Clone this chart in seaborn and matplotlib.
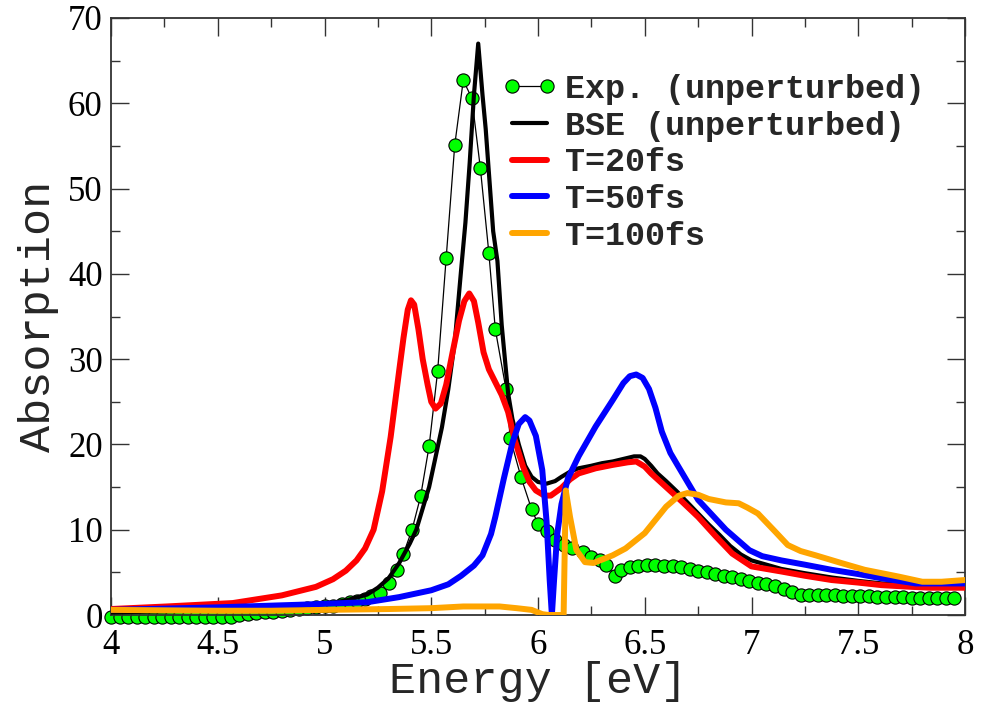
import matplotlib
matplotlib.use("Agg")
import matplotlib.pyplot as plt
import seaborn as sns
from matplotlib.lines import Line2D
from matplotlib.legend_handler import HandlerLine2D
from matplotlib.ticker import MultipleLocator, FuncFormatter

# experimental spectrum (green circles)
exp_energy = [4.00, 4.04, 4.08, 4.12, 4.16, 4.20, 4.24, 4.28, 4.32, 4.36,
              4.40, 4.44, 4.48, 4.52, 4.56, 4.60, 4.64, 4.68, 4.72, 4.76,
              4.80, 4.84, 4.88, 4.92, 4.96, 5.00, 5.04, 5.08, 5.12, 5.15,
              5.19, 5.22, 5.26, 5.30, 5.34, 5.37, 5.41, 5.45, 5.49, 5.53,
              5.57, 5.61, 5.65, 5.69, 5.73, 5.77, 5.80, 5.85, 5.87, 5.92,
              5.97, 6.00, 6.04, 6.08, 6.12, 6.16, 6.21, 6.25, 6.29, 6.32,
              6.36, 6.39, 6.43, 6.47, 6.51, 6.55, 6.59, 6.63, 6.67, 6.71,
              6.75, 6.79, 6.83, 6.87, 6.91, 6.95, 6.99, 7.03, 7.07, 7.11,
              7.15, 7.19, 7.23, 7.27, 7.31, 7.35, 7.39, 7.43, 7.47, 7.51,
              7.55, 7.59, 7.63, 7.67, 7.71, 7.75, 7.79, 7.83, 7.87, 7.91, 7.95]
exp_abs = [-0.2, -0.2, -0.2, -0.2, -0.2, -0.2, -0.2, -0.2, -0.2, -0.2,
           -0.2, -0.2, -0.2, -0.2, -0.2, 0.0, 0.1, 0.2, 0.3, 0.4,
           0.5, 0.6, 0.7, 0.8, 0.9, 1.0, 1.1, 1.3, 1.5, 1.7,
           1.9, 2.2, 2.6, 3.7, 5.3, 7.2, 10.0, 13.9, 19.8, 28.6,
           41.9, 55.1, 62.7, 60.6, 52.4, 42.4, 33.5, 26.5, 20.7, 16.2,
           12.4, 10.7, 9.8, 8.8, 8.2, 7.8, 7.4, 6.8, 6.4, 5.9,
           4.6, 5.3, 5.6, 5.8, 5.9, 5.9, 5.8, 5.7, 5.6, 5.4,
           5.2, 5.0, 4.8, 4.6, 4.4, 4.2, 4.0, 3.8, 3.6, 3.4,
           3.1, 2.7, 2.4, 2.3, 2.3, 2.3, 2.3, 2.2, 2.2, 2.2,
           2.2, 2.1, 2.1, 2.1, 2.1, 2.0, 2.0, 2.0, 2.0, 2.0, 2.0]

# BSE (unperturbed)
bse_energy = [4.00, 4.20, 4.40, 4.60, 4.80, 4.90, 5.00, 5.10, 5.20, 5.25,
              5.30, 5.35, 5.40, 5.43, 5.46, 5.49, 5.52, 5.55, 5.58, 5.61,
              5.64, 5.66, 5.68, 5.70, 5.72, 5.74, 5.755, 5.79, 5.81, 5.83,
              5.86, 5.88, 5.91, 5.94, 5.97, 6.00, 6.04, 6.08, 6.11, 6.15,
              6.19, 6.25, 6.30, 6.35, 6.40, 6.45, 6.48, 6.50, 6.53, 6.56,
              6.60, 6.65, 6.70, 6.75, 6.80, 6.85, 6.90, 6.95, 7.00, 7.14,
              7.25, 7.375, 7.50, 7.61, 7.75, 7.84, 8.00]
bse_abs = [0.3, 0.4, 0.5, 0.7, 0.9, 1.1, 1.3, 1.7, 2.4, 3.2,
           4.3, 6.1, 8.4, 10.0, 12.5, 15.0, 18.5, 22.0, 26.5, 32.0,
           40.5, 46.0, 53.0, 61.0, 67.0, 61.0, 57.0, 45.0, 41.5, 34.0,
           26.0, 23.0, 20.0, 17.5, 16.2, 15.6, 15.4, 15.7, 16.2, 16.8,
           17.2, 17.5, 17.8, 18.0, 18.3, 18.6, 18.6, 18.3, 17.5, 16.6,
           15.7, 14.5, 13.2, 11.9, 10.6, 9.4, 8.1, 7.1, 6.4, 5.4,
           4.9, 4.4, 4.0, 3.7, 3.5, 3.4, 3.4]

# T = 20 fs
t20_energy = [4.00, 4.26, 4.57, 4.80, 4.96, 5.04, 5.10, 5.15, 5.19, 5.23,
              5.27, 5.31, 5.35, 5.37, 5.39, 5.405, 5.42, 5.44, 5.46, 5.483,
              5.50, 5.52, 5.545, 5.57, 5.60, 5.63, 5.655, 5.678, 5.70, 5.72,
              5.745, 5.77, 5.80, 5.83, 5.86, 5.89, 5.93, 5.96, 5.99, 6.03,
              6.06, 6.11, 6.15, 6.19, 6.27, 6.35, 6.42, 6.46, 6.50, 6.53,
              6.565, 6.60, 6.67, 6.75, 6.83, 6.91, 7.00, 7.14, 7.25, 7.375,
              7.50, 7.61, 7.75, 7.84, 8.00]
t20_abs = [0.7, 1.0, 1.4, 2.3, 3.3, 4.2, 5.2, 6.4, 7.8, 10.0,
           14.5, 20.9, 28.7, 32.5, 35.8, 36.9, 36.4, 33.5, 30.0, 27.0,
           25.0, 24.2, 24.8, 27.0, 30.8, 34.5, 36.8, 37.7, 36.8, 34.3,
           30.8, 28.8, 27.3, 25.8, 23.8, 20.6, 17.4, 15.6, 14.6, 14.0,
           14.0, 14.9, 15.9, 16.6, 17.2, 17.6, 17.9, 18.0, 17.4, 16.6,
           15.8, 15.0, 13.4, 11.5, 9.3, 7.2, 5.7, 5.1, 4.6, 4.1,
           3.8, 3.5, 3.3, 3.2, 3.2]

# T = 50 fs
t50_energy = [4.00, 4.50, 4.88, 5.20, 5.35, 5.50, 5.58, 5.64, 5.70, 5.74,
              5.78, 5.80, 5.84, 5.88, 5.91, 5.94, 5.96, 5.99, 6.02, 6.04,
              6.055, 6.065, 6.075, 6.09, 6.11, 6.14, 6.19, 6.27, 6.35, 6.40,
              6.43, 6.46, 6.49, 6.52, 6.55, 6.58, 6.62, 6.66, 6.75, 6.88,
              6.99, 7.05, 7.14, 7.25, 7.375, 7.50, 7.61, 7.77, 8.00]
t50_abs = [0.6, 0.9, 1.2, 1.5, 2.1, 2.9, 3.6, 4.6, 5.8, 7.0,
           9.5, 11.5, 16.0, 20.2, 22.4, 23.2, 22.8, 21.0, 17.0, 11.0,
           4.0, 0.0, 4.0, 9.5, 13.0, 16.0, 18.6, 22.1, 25.2, 27.2,
           28.0, 28.2, 27.8, 26.5, 24.3, 21.5, 19.0, 17.3, 13.5, 10.0,
           7.6, 6.9, 6.4, 5.9, 5.3, 4.8, 4.3, 3.7, 3.7]

# T = 100 fs
t100_energy = [4.00, 4.50, 4.75, 5.00, 5.30, 5.50, 5.65, 5.82, 5.90, 5.97,
               6.02, 6.05, 6.12, 6.13, 6.15, 6.18, 6.22, 6.26, 6.29, 6.35,
               6.41, 6.50, 6.60, 6.66, 6.70, 6.75, 6.80, 6.88, 6.94, 6.98,
               7.03, 7.11, 7.17, 7.23, 7.30, 7.42, 7.53, 7.69, 7.80, 7.89, 8.00]
t100_abs = [0.6, 0.5, 0.5, 0.6, 0.7, 0.8, 1.0, 1.0, 0.8, 0.6,
            0.1, 0.0, 0.0, 14.6, 11.5, 7.6, 6.2, 6.1, 6.4, 7.0,
            7.8, 9.6, 12.7, 14.0, 14.3, 14.1, 13.6, 13.2, 13.1, 12.6,
            11.9, 9.8, 8.2, 7.5, 7.0, 6.1, 5.3, 4.5, 3.9, 3.9, 4.1]

sns.set_theme(style="ticks")
plt.rcParams['font.family'] = ['Liberation Serif', 'DejaVu Serif']

W, H = 995, 710
fig = plt.figure(figsize=(W / 100, H / 100), dpi=100)
ax = fig.add_axes([111 / W, 1 - 615 / H, (965 - 111) / W, (615 - 18) / H])

sns.lineplot(x=exp_energy, y=exp_abs, ax=ax, color='black', lw=0.9,
             marker='o', ms=9.5, mfc='#00ff00', mec='black', mew=0.8,
             clip_on=False, label='Exp. (unperturbed)', zorder=2)
sns.lineplot(x=bse_energy, y=bse_abs, ax=ax, color='black', lw=3.0,
             label='BSE (unperturbed)', zorder=3)
sns.lineplot(x=t20_energy, y=t20_abs, ax=ax, color='#ff0000', lw=4.3,
             label='T=20fs', zorder=4)
sns.lineplot(x=t50_energy, y=t50_abs, ax=ax, color='#0000ff', lw=4.3,
             label='T=50fs', zorder=5)
sns.lineplot(x=t100_energy, y=t100_abs, ax=ax, color='#ffa500', lw=4.3,
             label='T=100fs', zorder=6)

ax.set_xlim(4, 8)
ax.set_ylim(0, 70)
ax.xaxis.set_major_locator(MultipleLocator(0.5))
ax.xaxis.set_minor_locator(MultipleLocator(0.25))
ax.yaxis.set_major_locator(MultipleLocator(10))
ax.yaxis.set_minor_locator(MultipleLocator(5))
ax.xaxis.set_major_formatter(FuncFormatter(lambda v, p: f"{v:g}"))

for side in ['top', 'bottom', 'left', 'right']:
    ax.spines[side].set_visible(True)
    ax.spines[side].set_color('#333333')
    ax.spines[side].set_linewidth(1.3)
ax.tick_params(which='both', direction='in', top=True, right=True,
               color='#333333', width=1.0, labelsize=25, labelcolor='black')
ax.tick_params(which='major', length=13)
ax.tick_params(which='minor', length=6.5)
ax.tick_params(axis='x', pad=10)
ax.tick_params(axis='y', pad=6)

mono = {'family': ['Liberation Mono', 'DejaVu Sans Mono'], 'size': 32.5}
ax.set_xlabel('Energy [eV]', fontdict=mono)
ax.set_ylabel('Absorption', fontdict=mono)
ax.xaxis.label.set_va('baseline')
ax.yaxis.label.set_va('baseline')
ax.xaxis.set_label_coords(0.5, (615 - 693) / 597)
ax.yaxis.set_label_coords((50 - 111) / 854, 0.5)

leg = ax.legend(loc='upper left', bbox_to_anchor=(510 / W, 1 - 74 / H),
                bbox_transform=fig.transFigure, frameon=False, numpoints=2,
                handler_map={Line2D: HandlerLine2D(marker_pad=0.05)},
                handlelength=1.15, handletextpad=0.5, labelspacing=0.17,
                borderpad=0, borderaxespad=0,
                prop={'family': ['Liberation Mono', 'DejaVu Sans Mono'],
                      'weight': 'bold', 'size': 24})

fig.savefig('out.png', dpi=100)
